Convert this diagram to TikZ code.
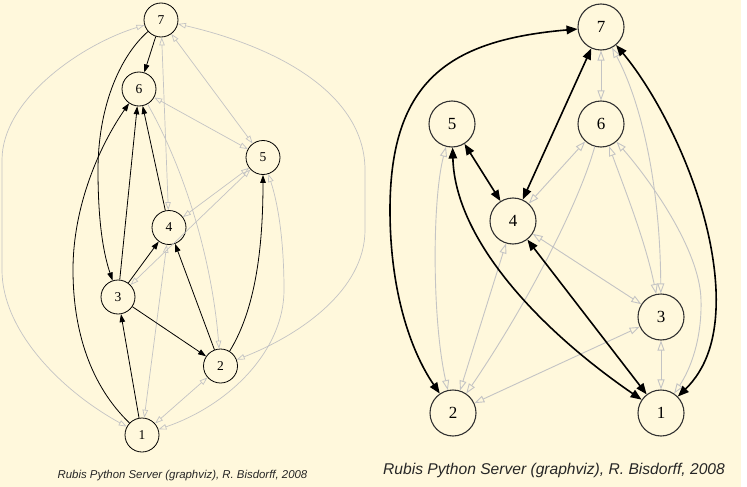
\documentclass[tikz,border=0pt]{standalone}
\usepackage{fontspec}
\setmainfont{Liberation Serif}
\setsansfont{Liberation Sans}
\usetikzlibrary{arrows.meta}
\definecolor{bg}{HTML}{FFF8DC}
\definecolor{edgegray}{HTML}{C4C4C4}
\begin{document}
\begin{tikzpicture}[x=1pt,y=-1pt,
  lnode/.style={circle, draw=black, line width=0.8pt, minimum size=34pt, inner sep=0pt, fill=bg, font=\fontsize{13.5}{13.5}\selectfont},
  rnode/.style={circle, draw=black!80, line width=1.1pt, minimum size=46pt, inner sep=0pt, fill=bg, font=\fontsize{17}{17}\selectfont},
  lblk/.style={draw=black, line width=0.8pt, -{Triangle[length=8pt,width=5.5pt]}},
  lgry/.style={draw=edgegray, line width=0.7pt, {Triangle[open,length=8pt,width=5.5pt]}-{Triangle[open,length=8pt,width=5.5pt]}},
  lgryone/.style={draw=edgegray, line width=0.7pt, -{Triangle[open,length=8pt,width=5.5pt]}},
  rblk/.style={draw=black, line width=1.6pt, {Triangle[length=11pt,width=8.5pt]}-{Triangle[length=11pt,width=8.5pt]}},
  rgry/.style={draw=edgegray, line width=0.9pt, {Triangle[open,length=10pt,width=7pt]}-{Triangle[open,length=10pt,width=7pt]}},
  rgryone/.style={draw=edgegray, line width=0.9pt, -{Triangle[open,length=10pt,width=7pt]}},
  captext/.style={text=black!85, anchor=base, inner sep=0pt}
]
\fill[white] (0,0) rectangle (747,487);
\fill[bg] (0,0) rectangle (741,487);
\useasboundingbox (0,0) rectangle (747,487);

% ---------- left graph nodes
\node[lnode] (L7) at (161,20) {7};
\node[lnode] (L6) at (139,89) {6};
\node[lnode] (L5) at (263,157.5) {5};
\node[lnode] (L4) at (169,227.5) {4};
\node[lnode] (L3) at (118,297) {3};
\node[lnode] (L2) at (220.5,366) {2};
\node[lnode] (L1) at (142,435) {1};

% left gray edges
\draw[lgry] (L7) .. controls (80,45) and (2,100) .. (2,160) -- (2,270) .. controls (2,330) and (60,390) .. (L1);
\draw[lgry] (L7) .. controls (290,50) and (365,100) .. (365,170) -- (365,230) .. controls (365,290) and (300,335) .. (L2);
\draw[lgry] (L7) -- (L4);
\draw[lgry] (L7) -- (L5);
\draw[lgry] (L6) -- (L5);
\draw[lgryone] (L6) .. controls (185,170) and (212,260) .. (L2);
\draw[lgry] (L5) -- (L4);
\draw[lgry] (L5) -- (L3);
\draw[lgry] (L5) .. controls (280,210) and (284,250) .. (284,290) .. controls (284,350) and (230,405) .. (L1);
\draw[lgry] (L4) -- (L1);
\draw[lgry] (L2) -- (L1);

% left black edges
\draw[lblk] (L7) -- (L6);
\draw[lblk] (L7) .. controls (118,58) and (98,110) .. (98,170) .. controls (98,225) and (104,255) .. (L3);
\draw[lblk] (L3) -- (L6);
\draw[lblk] (L4) -- (L6);
\draw[lblk] (L1) .. controls (90,385) and (73,330) .. (73,270) .. controls (73,205) and (100,145) .. (L6);
\draw[lblk] (L3) -- (L4);
\draw[lblk] (L2) -- (L4);
\draw[lblk] (L3) -- (L2);
\draw[lblk] (L1) -- (L3);
\draw[lblk] (L2) .. controls (255,310) and (263,250) .. (L5);

% ---------- right graph nodes
\node[rnode] (R7) at (601,27) {7};
\node[rnode] (R5) at (452,124) {5};
\node[rnode] (R6) at (601,124) {6};
\node[rnode] (R4) at (513,221) {4};
\node[rnode] (R3) at (661,317) {3};
\node[rnode] (R2) at (453,413) {2};
\node[rnode] (R1) at (661,413) {1};

% right gray edges
\draw[rgry] (R7) -- (R6);
\draw[rgry] (R6) -- (R4);
\draw[rgryone] (R6) .. controls (580,200) and (530,300) .. (R2);
\draw[rgry] (R6) .. controls (625,190) and (645,240) .. (R3);
\draw[rgry] (R6) .. controls (650,180) and (700,250) .. (701,300) .. controls (702,340) and (690,370) .. (R1);
\draw[rgry] (R7) .. controls (640,100) and (660,180) .. (R3);
\draw[rgry] (R4) -- (R3);
\draw[rgry] (R4) -- (R2);
\draw[rgry] (R5) .. controls (432,200) and (432,320) .. (R2);
\draw[rgry] (R3) -- (R2);
\draw[rgry] (R3) -- (R1);

% right black edges
\draw[rblk] (R7) .. controls (450,40) and (390,80) .. (390,210) .. controls (390,290) and (410,350) .. (R2);
\draw[rblk] (R7) -- (R4);
\draw[rblk] (R5) -- (R4);
\draw[rblk] (R5) .. controls (455,240) and (540,330) .. (R1);
\draw[rblk] (R4) -- (R1);
\draw[rblk] (R7) .. controls (662,100) and (712,200) .. (716,290) .. controls (718,340) and (705,370) .. (R1);

% captions
\node[captext, font=\sffamily\itshape\fontsize{11.4}{13}\selectfont] (capL) at (182.5,478) {Rubis Python Server (graphviz), R. Bisdorff, 2008};
\node[captext, font=\sffamily\itshape\fontsize{15.6}{17}\selectfont] (capR) at (554,474) {Rubis Python Server (graphviz), R. Bisdorff, 2008};
\end{tikzpicture}
\end{document}
